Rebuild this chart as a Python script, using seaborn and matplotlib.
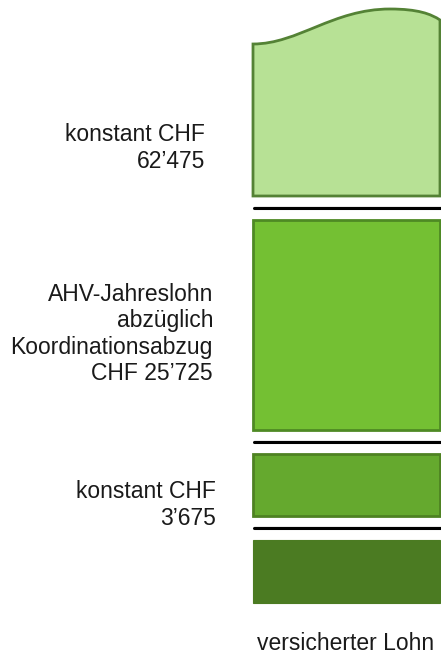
import matplotlib
matplotlib.use("Agg")
import matplotlib.pyplot as plt
import seaborn as sns
from matplotlib.path import Path
from matplotlib.patches import PathPatch

sns.set_theme(style="white")
plt.rcParams['font.family'] = ['Liberation Sans', 'DejaVu Sans']

# --- data (schematic block heights, top to bottom) ---
labels = ["konstant CHF\n62’475",
          "AHV-Jahreslohn\nabzüglich\nKoordinationsabzug\nCHF 25’725",
          "konstant CHF\n3’675"]
block_heights = [152, 210, 62, 63]
fills = ["#B7E195", "#74C033", "#65A92E", "#4B7B22"]
edges = ["#548235", "#4E8A24", "#4E8222", "#4B7B22"]
xlabel = "versicherter Lohn"

# --- layout ---
W, H = 441, 655
fig = plt.figure(figsize=(W / 100, H / 100), dpi=100)
ax = fig.add_axes([0, 0, 1, 1])
ax.set_xlim(0, W)
ax.set_ylim(H, 0)
ax.axis("off")

bar_left, bar_w = 253, 187
bottom = 603
gap = 24
tops = []
for h in reversed(block_heights):
    tops.append(bottom - h)
    bottom = bottom - h - gap
tops = list(reversed(tops))
bottoms = [t + h for t, h in zip(tops, block_heights)]

# blocks 2..4 as bars
for i in range(1, 4):
    lw = 2.0 if i < 3 else 0.8
    ax.bar(bar_left, block_heights[i], bottom=tops[i], width=bar_w, align="edge",
           color=fills[i], edgecolor=edges[i], linewidth=lw, zorder=2)

# block 1 with wavy top
t0, b0 = tops[0], bottoms[0]
verts = [(bar_left, b0), (bar_left, t0),
         (bar_left + 45, t0), (bar_left + 80, t0 - 35), (bar_left + 137, t0 - 35),
         (bar_left + 165, t0 - 35), (bar_left + 178, t0 - 30), (bar_left + bar_w, t0 - 24),
         (bar_left + bar_w, b0), (bar_left, b0)]
codes = [Path.MOVETO, Path.LINETO,
         Path.CURVE4, Path.CURVE4, Path.CURVE4,
         Path.CURVE4, Path.CURVE4, Path.CURVE4,
         Path.LINETO, Path.CLOSEPOLY]
ax.add_patch(PathPatch(Path(verts, codes), facecolor=fills[0], edgecolor=edges[0],
                       linewidth=2.0, zorder=2))

# separators
for i in range(3):
    y = (bottoms[i] + tops[i + 1]) / 2
    ax.plot([bar_left + 1, W], [y - 1.5, y - 1.5], color="#BBBBBB", lw=1.0, zorder=3)
    ax.plot([bar_left + 1, W], [y, y], color="black", lw=2.2, zorder=4)

# labels
label_x = [205, 213, 216]
label_y = [148, 334, 505]
for txt, x, y in zip(labels, label_x, label_y):
    ax.text(x, y, txt, ha="right", va="center", fontsize=16.5, color="#1a1a1a",
            linespacing=1.2)

ax.text(346, 643, xlabel, ha="center", va="center", fontsize=16.5, color="#1a1a1a")

fig.savefig("out.png", dpi=100, facecolor="white")
